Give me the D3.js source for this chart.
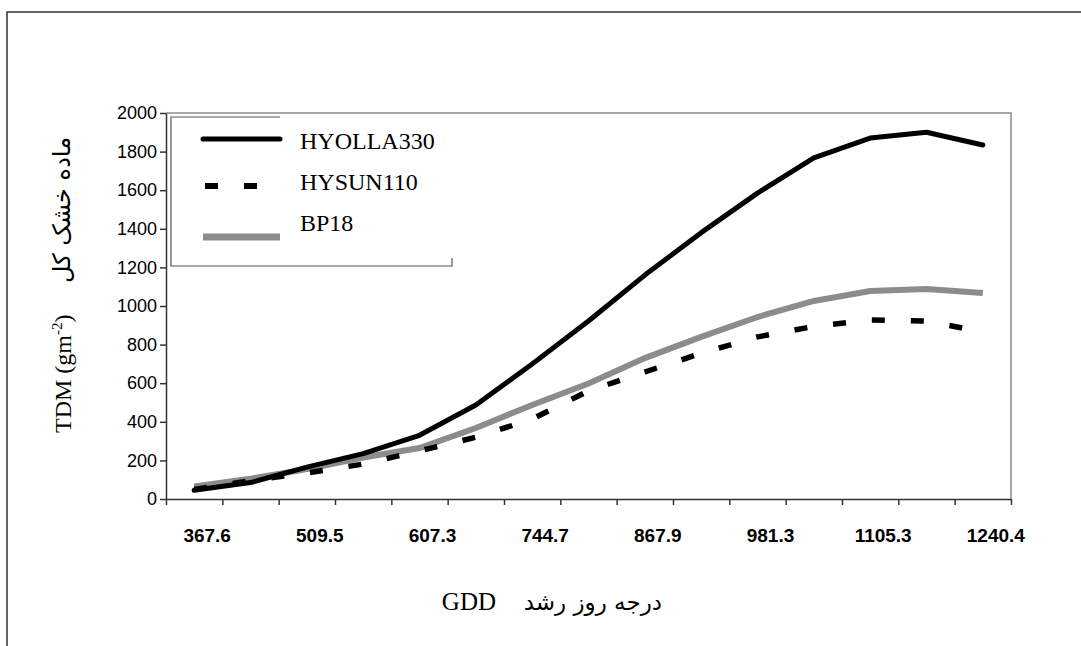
<!DOCTYPE html>
<html>
<head>
<meta charset="utf-8">
<script src="https://cdn.jsdelivr.net/npm/d3@7"></script>
<style>
  body { margin: 0; background: #fff; }
  svg { display: block; }
</style>
</head>
<body>
<svg></svg>
<script>
// data
var tickLabels = ["367.6", "509.5", "607.3", "744.7", "867.9", "981.3", "1105.3", "1240.4"];
var nCats = 15; // one label every second category
var hyolla = [45, 85, 165, 235, 330, 487, 700, 922, 1160, 1380, 1585, 1767, 1870, 1900, 1834];
var hysun = [50, 95, 135, 181, 249, 320, 414, 560, 658, 755, 840, 894, 928, 922, 865];
var bp18 = [65, 105, 155, 215, 264, 368, 487, 598, 730, 840, 943, 1026, 1078, 1088, 1067];
var seriesNames = ["HYOLLA330", "HYSUN110", "BP18"];

var W = 1081, H = 646;
var svg = d3.select("svg").attr("width", W).attr("height", H);

// outer frame
svg.append("path")
  .attr("d", "M7,646 L7,12 L1081,12")
  .attr("fill", "none").attr("stroke", "#333").attr("stroke-width", 1.5);

var pLeft = 166, pRight = 1011, pTop = 113, pBottom = 499;

var x = d3.scaleBand().domain(d3.range(nCats)).range([pLeft, pRight]);
var xt = d3.scaleLinear().domain([0, nCats]).range([pLeft, pRight]);
var y = d3.scaleLinear().domain([0, 2000]).range([pBottom, pTop]);
function cx(i) { return x(i) + x.bandwidth() / 2; }

// plot area border (top & right)
svg.append("path")
  .attr("d", "M" + pLeft + "," + pTop + " L" + pRight + "," + pTop + " L" + pRight + "," + pBottom)
  .attr("fill", "none").attr("stroke", "#8a8a8a").attr("stroke-width", 1.5);

// y axis
var yAxis = svg.append("g")
  .attr("transform", "translate(" + pLeft + ",0)")
  .call(d3.axisLeft(y).tickValues(d3.range(0, 2001, 200)).tickSize(6).tickPadding(3).tickSizeOuter(0)
    .tickFormat(d3.format("d")));
yAxis.selectAll("text")
  .attr("font-family", "Liberation Sans, Arial, sans-serif")
  .attr("font-size", "18px").attr("fill", "#000");
yAxis.selectAll("line, path").attr("stroke", "#333").attr("stroke-width", 1.5);

// x axis
var xAxis = svg.append("g")
  .attr("transform", "translate(0," + pBottom + ")")
  .call(d3.axisBottom(xt).ticks(nCats).tickFormat("").tickSize(6).tickSizeOuter(0));
xAxis.selectAll("line, path").attr("stroke", "#333").attr("stroke-width", 1.5);

svg.selectAll(".xlab")
  .data(tickLabels)
  .enter()
  .append("text")
  .attr("class", "xlab")
  .attr("x", function (d, i) { return cx(i * 2) + 13; })
  .attr("y", 542)
  .attr("text-anchor", "middle")
  .attr("font-family", "Liberation Sans, Arial, sans-serif")
  .attr("font-weight", "bold")
  .attr("font-size", "19px")
  .text(function (d) { return d; });

// lines
var line = d3.line()
  .x(function (d, i) { return cx(i); })
  .y(function (d) { return y(d); });

svg.append("path").datum(bp18)
  .attr("d", line).attr("fill", "none")
  .attr("stroke", "#8c8c8c").attr("stroke-width", 6);

svg.append("path").datum(hysun)
  .attr("d", line).attr("fill", "none")
  .attr("stroke", "#000").attr("stroke-width", 5.5)
  .attr("stroke-dasharray", "13,26");

svg.append("path").datum(hyolla)
  .attr("d", line).attr("fill", "none")
  .attr("stroke", "#000").attr("stroke-width", 5)
  .attr("stroke-linejoin", "round").attr("stroke-linecap", "round");

// legend (box only partly drawn, like the picture)
var lg = svg.append("g");
lg.append("path")
  .attr("d", "M280,117 L171,117 L171,266 L452,266 L452,258")
  .attr("fill", "none").attr("stroke", "#555").attr("stroke-width", 1.2);

var legendRows = [
  { name: seriesNames[0], ly: 139, ty: 149, color: "#000", w: 5, dash: null },
  { name: seriesNames[1], ly: 186, ty: 190, color: "#000", w: 6, dash: "13,26" },
  { name: seriesNames[2], ly: 237, ty: 231, color: "#8c8c8c", w: 7, dash: null }
];
legendRows.forEach(function (r, i) {
  var sx = i === 1 ? 205 : 203;
  lg.append("line")
    .attr("x1", sx).attr("x2", 280).attr("y1", r.ly).attr("y2", r.ly)
    .attr("stroke", r.color).attr("stroke-width", r.w)
    .attr("stroke-dasharray", r.dash)
    .attr("stroke-linecap", i === 0 ? "round" : "butt");
  lg.append("text")
    .attr("x", 300).attr("y", r.ty)
    .attr("font-family", "Liberation Serif, Times New Roman, serif")
    .attr("font-size", "24px")
    .text(r.name);
});

// axis titles
var yt = svg.append("text")
  .attr("transform", "translate(71,433) rotate(-90)")
  .attr("font-family", "Liberation Serif, Times New Roman, serif")
  .attr("font-size", "24px");
yt.append("tspan").text("TDM (gm");
yt.append("tspan").attr("dy", -9).attr("font-size", "15px").text("-2");
yt.append("tspan").attr("dy", 9).text(")");

svg.append("text")
  .attr("transform", "translate(70,283) rotate(-90)")
  .attr("font-family", "DejaVu Sans, Liberation Serif, serif")
  .attr("font-size", "24px")
  .attr("text-anchor", "start")
  .text("ماده خشک کل");

svg.append("text")
  .attr("x", 496).attr("y", 610)
  .attr("text-anchor", "end")
  .attr("font-family", "Liberation Serif, Times New Roman, serif")
  .attr("font-size", "25px")
  .text("GDD");

svg.append("text")
  .attr("x", 662).attr("y", 610)
  .attr("text-anchor", "end")
  .attr("font-family", "DejaVu Sans, Liberation Serif, serif")
  .attr("font-size", "23px")
  .text("درجه روز رشد");
</script>
</body>
</html>
